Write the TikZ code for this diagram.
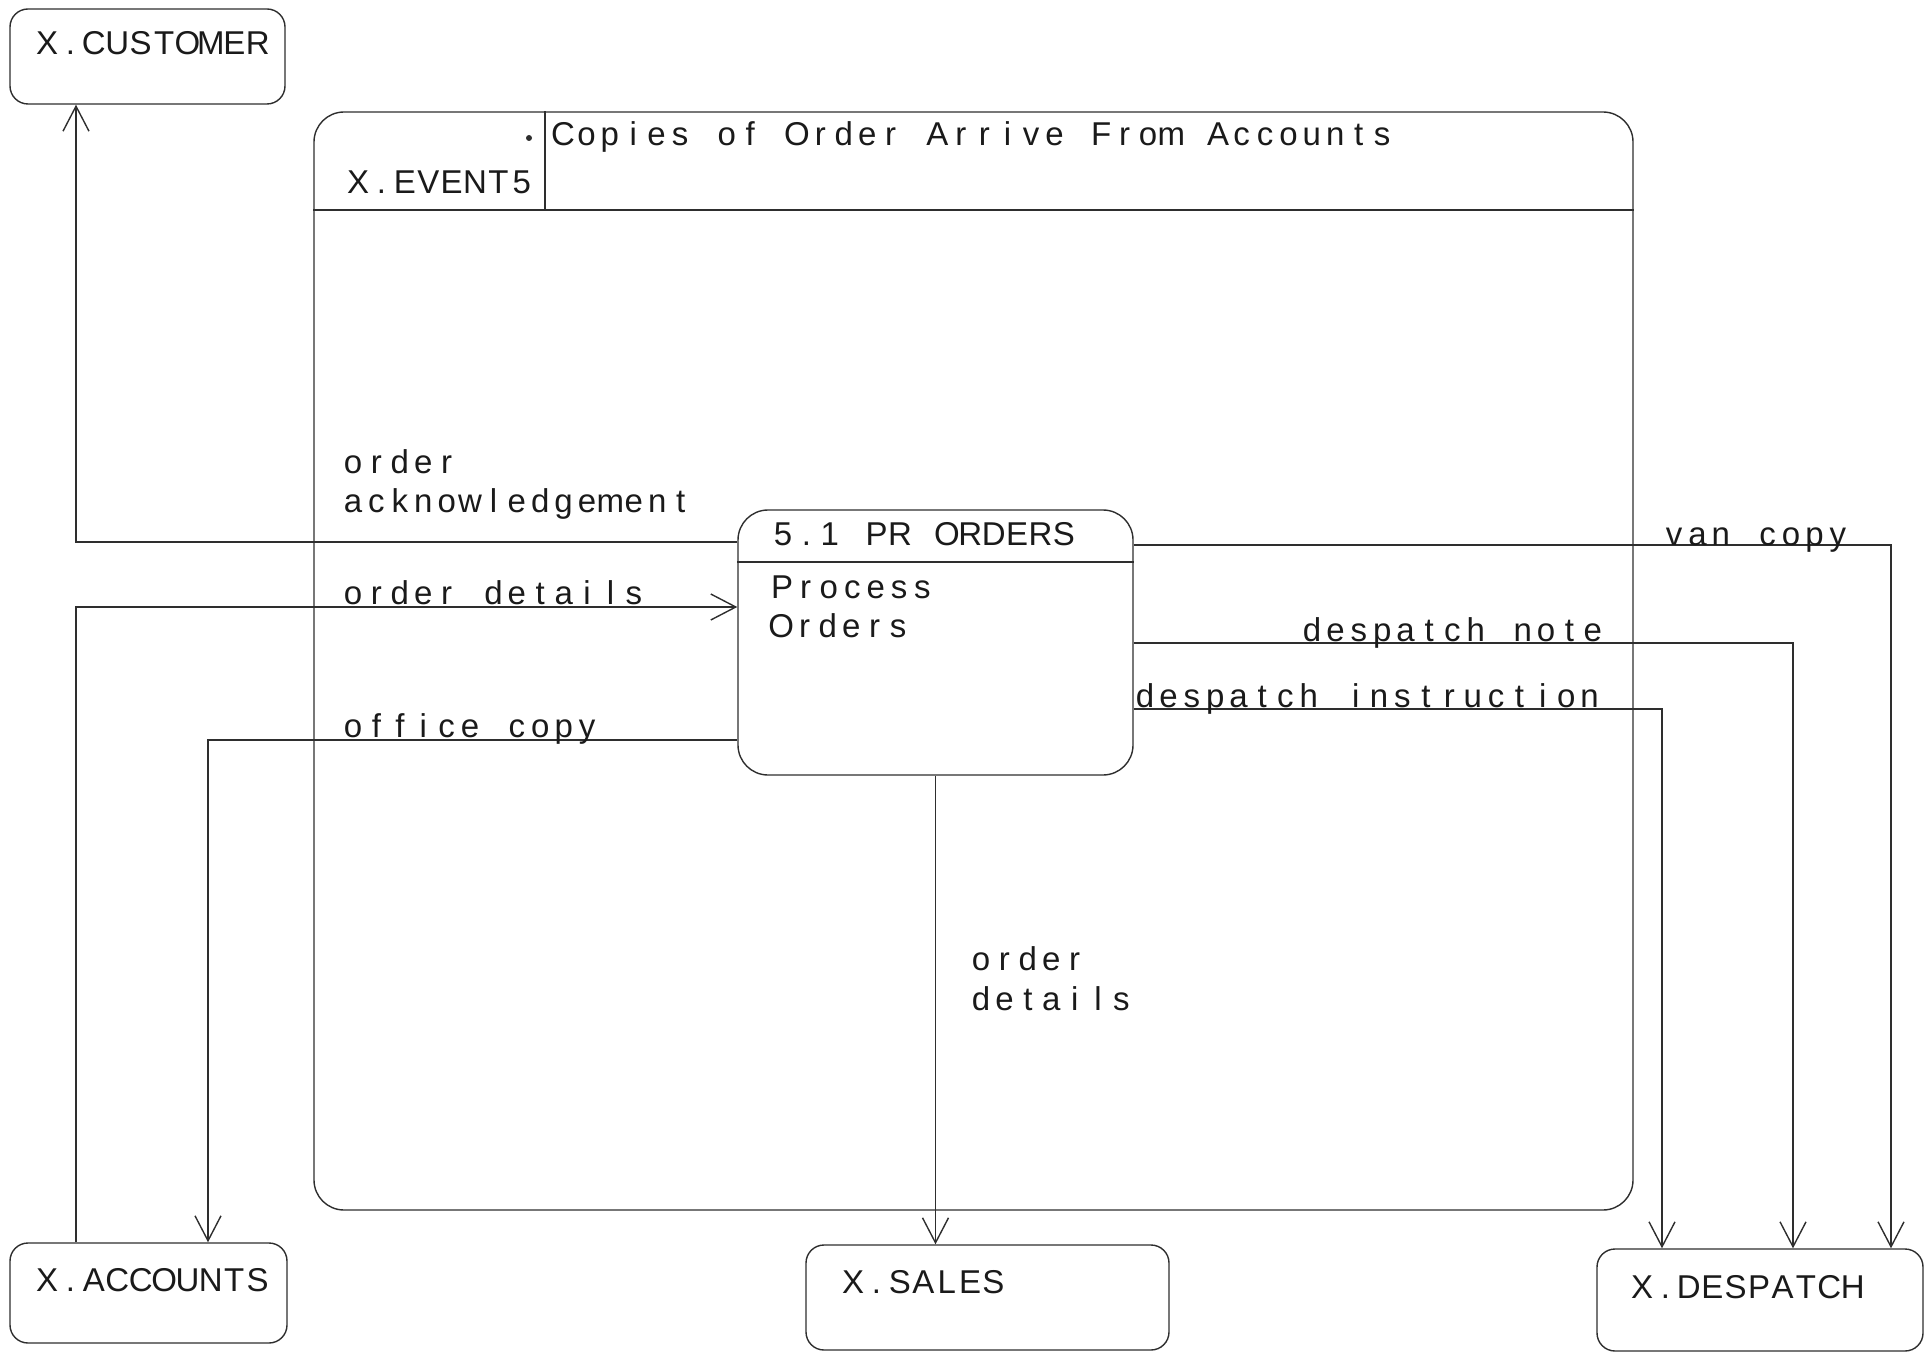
\documentclass[tikz,border=0pt]{standalone}
\usepackage{fontspec}
\setmainfont{Liberation Sans}
\usetikzlibrary{arrows.meta,fit}
\ExplSyntaxOn
\NewDocumentCommand\fixp{m}{\tl_map_inline:nn{#1}{\makebox[11.7pt]{##1}}}
\ExplSyntaxOff
\definecolor{ink}{HTML}{2E2E2E}
\definecolor{txt}{HTML}{1A1A1A}
\begin{document}
\begin{tikzpicture}[x=0.5pt,y=-0.5pt,
  box/.style={draw=ink,line width=0.7pt,rounded corners=9pt,inner sep=0pt},
  bigbox/.style={box,rounded corners=15pt},
  lbl/.style={anchor=base west,inner sep=0pt,text=txt,font=\fontsize{16.5pt}{19pt}\selectfont},
  wire/.style={draw=ink,line width=0.7pt},
  arr/.style={wire,-{Straight Barb[length=12.5pt,width=13pt,line width=0.7pt]}},
]
\useasboundingbox (0,0) rectangle (1926,1353);

% boxes
\node[box, fit={(10,9) (285,104)}] (cust) {};
\node[box, fit={(10,1243) (287,1343)}] (acc) {};
\node[box, fit={(806,1245) (1169,1350)}] (sales) {};
\node[box, fit={(1597,1249) (1923,1351)}] (desp) {};
\node[bigbox, fit={(314,112) (1633,1210)}] (event) {};
\node[bigbox, fit={(738,510) (1133,775)}] (proc) {};

% helper coordinates
\coordinate (yH) at (0,210);
\coordinate (xDiv) at (545,0);
\coordinate (yPD) at (0,562);
\coordinate (xL) at (76,0);
\coordinate (xOC) at (208,0);
\coordinate (xDI) at (1662,0);
\coordinate (xDN) at (1793,0);
\coordinate (xVC) at (1891,0);
\coordinate (yAck) at (0,542);
\coordinate (yOD) at (0,607);
\coordinate (yOC) at (0,740);
\coordinate (yVC) at (0,545);
\coordinate (yDN) at (0,643);
\coordinate (yDI) at (0,709);

% event header
\draw[wire] (event.west |- yH) -- (event.east |- yH);
\draw[wire] (xDiv |- event.north) -- (xDiv |- yH);
\fill[ink] (529,138) circle (1.5pt);
% process divider
\draw[wire] (proc.west |- yPD) -- (proc.east |- yPD);

% connectors
\draw[arr] (proc.west |- yAck) -| (cust.south -| xL);
\draw[arr] (acc.north -| xL) |- (proc.west |- yOD);
\draw[arr] (proc.west |- yOC) -| (acc.north -| xOC);
\draw[arr] (proc.east |- yVC) -| (desp.north -| xVC);
\draw[arr] (proc.east |- yDN) -| (desp.north -| xDN);
\draw[arr] (proc.east |- yDI) -| (desp.north -| xDI);
\draw[arr] (proc.south) -- (proc.south |- sales.north);

% texts
\node[lbl] (tcust) at (35,55) {\fixp{X.CUSTOMER}};
\node[lbl] (tacc) at (35,1291) {\fixp{X.ACCOUNTS}};
\node[lbl] (tsales) at (841,1293) {\fixp{X.SALES}};
\node[lbl] (tdesp) at (1630,1298) {\fixp{X.DESPATCH}};
\node[lbl] (tev) at (346,194) {\fixp{X.EVENT5}};
\node[lbl] (tevd) at (551,146) {\fixp{Copies~of~Order~Arrive~From~Accounts}};
\node[lbl] (tproc) at (771,545) {\fixp{5.1~PR~ORDERS}};
\node[lbl] (tproc1) at (770,598) {\fixp{Process}};
\node[lbl] (tproc2) at (769,637) {\fixp{Orders}};
\node[lbl] (lack1) at (341,473) {\fixp{order}};
\node[lbl] (lack2) at (341,512) {\fixp{acknowledgement}};
\node[lbl] (lod) at (341,604) {\fixp{order~details}};
\node[lbl] (loc) at (341,737) {\fixp{office~copy}};
\node[lbl] (lvc) at (1662,545) {\fixp{van~copy}};
\node[lbl] (ldn) at (1300,641) {\fixp{despatch~note}};
\node[lbl] (ldi) at (1133,707) {\fixp{despatch~instruction}};
\node[lbl] (ls1) at (969,970) {\fixp{order}};
\node[lbl] (ls2) at (969,1010) {\fixp{details}};
\end{tikzpicture}
\end{document}
